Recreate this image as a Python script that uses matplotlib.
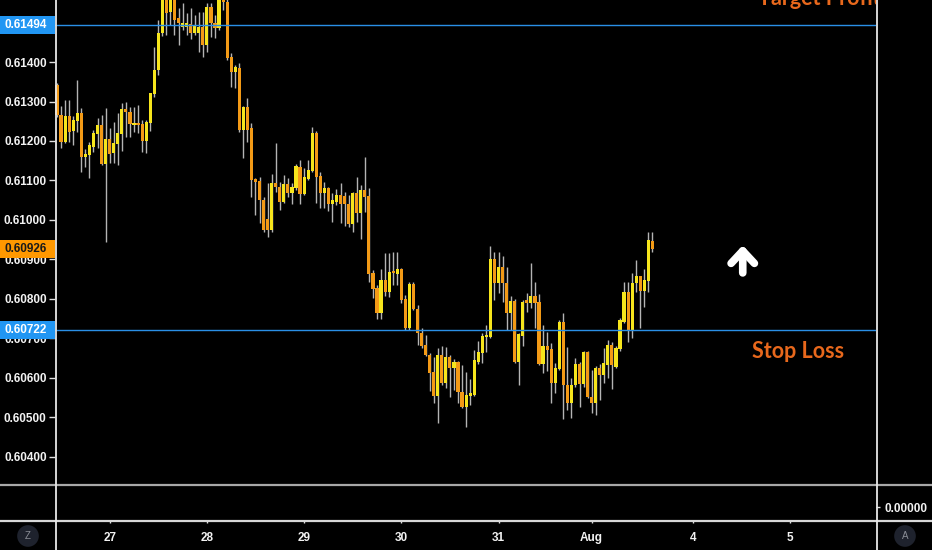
import matplotlib
matplotlib.use("Agg")
import matplotlib.pyplot as plt
from matplotlib import transforms
from matplotlib.lines import Line2D
from matplotlib.patches import Rectangle
import numpy as np

# hourly candles
opens = [0.61342, 0.61266, 0.61197, 0.61263, 0.61225, 0.61251, 0.61271, 0.61159, 0.61165, 0.61185,
         0.61218, 0.61240, 0.61142, 0.61205, 0.61170, 0.61192, 0.61218, 0.61281, 0.61273, 0.61240,
         0.61246, 0.61243, 0.61200, 0.61246, 0.61319, 0.61380, 0.61473, 0.61562, 0.61527, 0.61557,
         0.61511, 0.61489, 0.61489, 0.61496, 0.61473, 0.61473, 0.61489, 0.61443, 0.61539, 0.61499,
         0.61486, 0.61562, 0.61552, 0.61413, 0.61375, 0.61385, 0.61228, 0.61286, 0.61233, 0.61104,
         0.61099, 0.61051, 0.61002, 0.60975, 0.61094, 0.61084, 0.61046, 0.61091, 0.61068, 0.61081,
         0.61134, 0.61066, 0.61104, 0.61124, 0.61220, 0.61111, 0.61068, 0.61081, 0.61040, 0.61046,
         0.61063, 0.61061, 0.61040, 0.60990, 0.61068, 0.61018, 0.61076, 0.61061, 0.60866, 0.60828,
         0.60764, 0.60848, 0.60818, 0.60868, 0.60863, 0.60876, 0.60800, 0.60726, 0.60838, 0.60775,
         0.60714, 0.60683, 0.60658, 0.60615, 0.60554, 0.60658, 0.60587, 0.60653, 0.60625, 0.60640,
         0.60564, 0.60526, 0.60554, 0.60557, 0.60640, 0.60663, 0.60704, 0.60704, 0.60901, 0.60840,
         0.60881, 0.60840, 0.60764, 0.60795, 0.60640, 0.60706, 0.60797, 0.60790, 0.60808, 0.60792,
         0.60635, 0.60681, 0.60673, 0.60587, 0.60623, 0.60742, 0.60582, 0.60537, 0.60582, 0.60635,
         0.60585, 0.60666, 0.60552, 0.60537, 0.60625, 0.60607, 0.60633, 0.60683, 0.60628, 0.60673,
         0.60742, 0.60818, 0.60721, 0.60840, 0.60858, 0.60820, 0.60846, 0.60947]
closes = [0.61266, 0.61197, 0.61263, 0.61223, 0.61253, 0.61271, 0.61159, 0.61167, 0.61190, 0.61220,
          0.61240, 0.61142, 0.61205, 0.61167, 0.61195, 0.61220, 0.61281, 0.61273, 0.61243, 0.61246,
          0.61240, 0.61200, 0.61248, 0.61322, 0.61380, 0.61473, 0.61565, 0.61524, 0.61565, 0.61506,
          0.61499, 0.61499, 0.61499, 0.61473, 0.61491, 0.61489, 0.61443, 0.61539, 0.61499, 0.61486,
          0.61562, 0.61552, 0.61410, 0.61375, 0.61387, 0.61228, 0.61286, 0.61228, 0.61101, 0.61096,
          0.61051, 0.60975, 0.60975, 0.61094, 0.61084, 0.61046, 0.61091, 0.61068, 0.61084, 0.61137,
          0.61066, 0.61109, 0.61127, 0.61220, 0.61109, 0.61068, 0.61081, 0.61040, 0.61051, 0.61063,
          0.61040, 0.61040, 0.60990, 0.61068, 0.61018, 0.61076, 0.61058, 0.60863, 0.60825, 0.60764,
          0.60848, 0.60818, 0.60868, 0.60866, 0.60876, 0.60797, 0.60726, 0.60838, 0.60775, 0.60714,
          0.60681, 0.60658, 0.60613, 0.60554, 0.60658, 0.60587, 0.60653, 0.60625, 0.60640, 0.60564,
          0.60526, 0.60557, 0.60562, 0.60645, 0.60666, 0.60706, 0.60709, 0.60901, 0.60840, 0.60881,
          0.60840, 0.60764, 0.60795, 0.60640, 0.60711, 0.60792, 0.60790, 0.60808, 0.60790, 0.60635,
          0.60681, 0.60671, 0.60587, 0.60625, 0.60742, 0.60582, 0.60537, 0.60582, 0.60635, 0.60585,
          0.60666, 0.60552, 0.60537, 0.60625, 0.60607, 0.60638, 0.60683, 0.60633, 0.60676, 0.60747,
          0.60818, 0.60721, 0.60840, 0.60858, 0.60820, 0.60848, 0.60949, 0.60926]
highs = [0.61347, 0.61289, 0.61304, 0.61304, 0.61263, 0.61354, 0.61284, 0.61180, 0.61197, 0.61228,
         0.61258, 0.61266, 0.61284, 0.61233, 0.61248, 0.61271, 0.61296, 0.61299, 0.61286, 0.61286,
         0.61291, 0.61253, 0.61253, 0.61322, 0.61438, 0.61506, 0.61595, 0.61587, 0.61582, 0.61577,
         0.61537, 0.61549, 0.61524, 0.61537, 0.61519, 0.61527, 0.61527, 0.61549, 0.61549, 0.61519,
         0.61582, 0.61577, 0.61562, 0.61423, 0.61392, 0.61397, 0.61289, 0.61309, 0.61246, 0.61106,
         0.61109, 0.61058, 0.61094, 0.61116, 0.61195, 0.61096, 0.61114, 0.61106, 0.61094, 0.61142,
         0.61152, 0.61132, 0.61152, 0.61235, 0.61225, 0.61121, 0.61096, 0.61084, 0.61068, 0.61078,
         0.61094, 0.61071, 0.61063, 0.61071, 0.61109, 0.61089, 0.61159, 0.61081, 0.60873, 0.60835,
         0.60876, 0.60916, 0.60916, 0.60919, 0.60919, 0.60878, 0.60810, 0.60843, 0.60843, 0.60785,
         0.60726, 0.60709, 0.60663, 0.60653, 0.60676, 0.60681, 0.60678, 0.60658, 0.60648, 0.60643,
         0.60633, 0.60615, 0.60597, 0.60671, 0.60694, 0.60714, 0.60734, 0.60934, 0.60919, 0.60919,
         0.60909, 0.60881, 0.60808, 0.60800, 0.60714, 0.60797, 0.60815, 0.60891, 0.60843, 0.60813,
         0.60734, 0.60716, 0.60689, 0.60638, 0.60747, 0.60764, 0.60678, 0.60600, 0.60651, 0.60640,
         0.60668, 0.60668, 0.60620, 0.60630, 0.60635, 0.60676, 0.60696, 0.60691, 0.60681, 0.60752,
         0.60843, 0.60843, 0.60866, 0.60899, 0.60858, 0.60876, 0.60970, 0.60970]
lows = [0.61261, 0.61182, 0.61195, 0.61197, 0.61190, 0.61223, 0.61121, 0.61134, 0.61106, 0.61172,
        0.61182, 0.61139, 0.60944, 0.61144, 0.61144, 0.61139, 0.61175, 0.61210, 0.61210, 0.61223,
        0.61220, 0.61172, 0.61170, 0.61225, 0.61311, 0.61367, 0.61466, 0.61468, 0.61494, 0.61468,
        0.61443, 0.61481, 0.61468, 0.61458, 0.61468, 0.61425, 0.61413, 0.61425, 0.61463, 0.61461,
        0.61481, 0.61532, 0.61405, 0.61337, 0.61334, 0.61223, 0.61157, 0.61197, 0.61058, 0.61013,
        0.60992, 0.60970, 0.60957, 0.60970, 0.61071, 0.61025, 0.61043, 0.61058, 0.61040, 0.61076,
        0.61040, 0.61063, 0.61101, 0.61121, 0.61043, 0.61030, 0.61030, 0.61023, 0.60995, 0.61038,
        0.60992, 0.60985, 0.60982, 0.60970, 0.60995, 0.60952, 0.61020, 0.60843, 0.60802, 0.60749,
        0.60749, 0.60808, 0.60805, 0.60835, 0.60835, 0.60790, 0.60721, 0.60721, 0.60772, 0.60683,
        0.60676, 0.60656, 0.60567, 0.60537, 0.60486, 0.60582, 0.60575, 0.60552, 0.60570, 0.60537,
        0.60524, 0.60476, 0.60532, 0.60554, 0.60635, 0.60638, 0.60666, 0.60701, 0.60797, 0.60815,
        0.60792, 0.60721, 0.60721, 0.60638, 0.60582, 0.60681, 0.60767, 0.60777, 0.60726, 0.60633,
        0.60613, 0.60618, 0.60537, 0.60562, 0.60620, 0.60496, 0.60519, 0.60499, 0.60577, 0.60526,
        0.60577, 0.60549, 0.60511, 0.60506, 0.60544, 0.60587, 0.60600, 0.60572, 0.60625, 0.60668,
        0.60739, 0.60691, 0.60701, 0.60818, 0.60726, 0.60780, 0.60818, 0.60919]

day_ticks = [13, 37, 61, 85, 109, 132, 157, 181]
day_labels = ["27", "28", "29", "30", "31", "Aug", "4", "5"]
price_ticks = [0.604, 0.605, 0.606, 0.607, 0.608, 0.609, 0.610, 0.611, 0.612, 0.613, 0.614]

target_profit = 0.61494
stop_loss = 0.60722
last_price = 0.60926

YELLOW = "#f6e51c"
ORANGE = "#f39a16"
WICK = "#b4b4b4"
LINE_BLUE = "#2a8fe6"
TAG_BLUE = "#2196f3"
NOTE = "#e8681c"

plt.rcParams["font.family"] = ["Liberation Sans", "DejaVu Sans"]

W, H = 932, 550
fig = plt.figure(figsize=(W / 100, H / 100), dpi=100, facecolor="black")

# main price pane
ax = fig.add_axes([55 / W, 65 / H, 821 / W, 485 / H], facecolor="black")
ax.set_xlim(-0.5, 202.2)
ax.set_ylim(0.60329, 0.61557)
for s in ax.spines.values():
    s.set_visible(False)

x = np.arange(len(closes))
o = np.array(opens)
c = np.array(closes)
colors = np.where(c >= o, YELLOW, ORANGE)
ax.vlines(x, lows, highs, color=WICK, lw=1, zorder=2)
ax.bar(x, np.maximum(np.abs(c - o), 0.00004), width=0.78, bottom=np.minimum(o, c),
       color=colors, linewidth=0, zorder=3)

ax.axhline(target_profit, color=LINE_BLUE, lw=1, zorder=4)
ax.axhline(stop_loss, color=LINE_BLUE, lw=1, zorder=4)

ax.set_xticks([])
ax.set_yticks(price_ticks)
ax.set_yticklabels([f"{p:.5f}" for p in price_ticks])
ax.tick_params(axis="y", length=4, width=1, color="#e0e0e0", labelcolor="#f2f2f2",
               labelsize=8.5, pad=2)
for lab in ax.get_yticklabels():
    lab.set_fontweight("bold")

# price tags on the left scale
tr = transforms.blended_transform_factory(fig.transFigure, ax.transData)


def price_tag(price, face, fg):
    ax.add_patch(Rectangle((0, price - 0.000225), 55 / W, 0.00045, transform=tr,
                           facecolor=face, edgecolor="none", clip_on=False, zorder=6))
    ax.text(47 / W, price, f"{price:.5f}", transform=tr, color=fg, fontsize=8.5,
            fontweight="bold", ha="right", va="center", clip_on=False, zorder=7)


price_tag(target_profit, TAG_BLUE, "white")
price_tag(last_price, "#ff9800", "#1a1a1a")
price_tag(stop_loss, TAG_BLUE, "white")

# notes
ax.text(173.1, 0.61544, "Target Profit", color=NOTE, fontsize=15.5, family="Lato",
        fontweight="bold", va="baseline", ha="left", clip_on=True, zorder=5)
ax.text(171.6, 0.60651, "Stop Loss", color=NOTE, fontsize=15.5, family="Lato",
        fontweight="bold", va="baseline", ha="left", zorder=5)
ax.annotate("", xy=(169.3, 0.60936), xytext=(169.3, 0.60866),
            arrowprops=dict(arrowstyle="->,head_length=0.45,head_width=0.42", lw=5.5,
                            color="white", mutation_scale=20, shrinkA=0, shrinkB=0,
                            capstyle="round", joinstyle="round"), zorder=5)

# empty lower pane with the date scale
ax2 = fig.add_axes([55 / W, 30 / H, 821 / W, 35 / H], facecolor="black")
ax2.set_xlim(-0.5, 202.2)
ax2.set_ylim(-0.371, 0.629)
for s in ax2.spines.values():
    s.set_visible(False)
ax2.set_xticks(day_ticks)
ax2.set_xticklabels(day_labels, fontweight="bold")
ax2.tick_params(axis="x", length=2.5, width=1, color="#e0e0e0", labelcolor="#f2f2f2",
                labelsize=8.5, pad=6)
ax2.yaxis.tick_right()
ax2.set_yticks([0])
ax2.set_yticklabels(["0.00000"], fontweight="bold")
ax2.tick_params(axis="y", length=3, width=1, color="#e0e0e0", labelcolor="#f2f2f2",
                labelsize=8.5, pad=3)

# pane borders
fig.add_artist(Line2D([0, 1], [65 / H, 65 / H], color="#a8a8a8", lw=1.6))
fig.add_artist(Line2D([0, 1], [29.5 / H, 29.5 / H], color="#d8d8d8", lw=1.6))
fig.add_artist(Line2D([55.5 / W, 55.5 / W], [0, 1], color="#e8e8e8", lw=1.3))
fig.add_artist(Line2D([876.5 / W, 876.5 / W], [0, 1], color="#e8e8e8", lw=1.3))

# small scale buttons
for bx, letter in [(28, "Z"), (905, "A")]:
    fig.text(bx / W, 14 / H, letter, color="#8a8d96", fontsize=7, ha="center", va="center",
             bbox=dict(boxstyle="circle,pad=0.6", fc="#1e222d", ec="none"))

fig.savefig("out.png", dpi=100, facecolor="black")
